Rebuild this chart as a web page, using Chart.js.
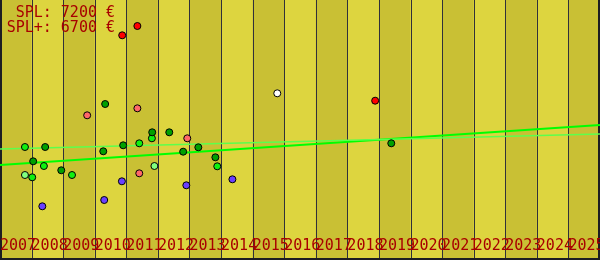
<!DOCTYPE html>
<html>
<head>
<meta charset="utf-8">
<script src="https://cdn.jsdelivr.net/npm/chart.js@4"></script>
<style>
    html, body { margin: 0; padding: 0; background: #ddd53f; }
    #wrap { width: 600px; height: 260px; position: relative; }
</style>
</head>
<body>
<div id="wrap"><canvas id="graphic-spl"></canvas></div>
<script>
// start: data
const years = [2007, 2008, 2009, 2010, 2011, 2012, 2013, 2014, 2015, 2016, 2017, 2018, 2019, 2020, 2021, 2022, 2023, 2024, 2025]
const splLabels = ['SPL: 7200 €', 'SPL+: 6700 €']

const redYears = [2010.87, 2011.35, 2018.88]
const redPrices = [22470, 23400, 15930]

const salmonYears = [2009.76, 2011.35, 2012.93, 2011.41]
const salmonPrices = [14470, 15170, 12170, 8670]

const darkGreenYears = [2008.43, 2008.05, 2008.94, 2010.33, 2010.27, 2010.90, 2011.82, 2012.36, 2013.28, 2012.80, 2013.82, 2019.39]
const darkGreenPrices = [11300, 9870, 8970, 15600, 10870, 11470, 12770, 12770, 11270, 10830, 10270, 11670]

const limeYears = [2007.79, 2008.39, 2009.28, 2008.02, 2011.81, 2011.41, 2013.88]
const limePrices = [11300, 9400, 8500, 8270, 12170, 11670, 9370]

const paleGreenYears = [2007.79, 2011.89]
const paleGreenPrices = [8500, 9400]

const blueYears = [2008.34, 2010.86, 2010.30, 2012.90, 2014.36]
const bluePrices = [5370, 7870, 6000, 7470, 8070]

const whiteYears = [2015.78]
const whitePrices = [16670]

const trendYears = [2007, 2026]
const trendSpl = [9500, 13500]
const trendSplPlus = [11100, 12600]
// end: data

function toPoints(xs, ys) {
    const data = []
    for (let i = 0; i < xs.length; i++) {
        data.push({ x: xs[i], y: ys[i] })
    }
    return data
}

function dots(xs, ys, color) {
    return {
        data: toPoints(xs, ys),
        pointRadius: 3.5,
        pointHoverRadius: 3.5,
        pointBackgroundColor: color,
        pointBorderColor: '#000',
        pointBorderWidth: 1,
        order: 0
    }
}

function trend(ys, color, width) {
    return {
        data: toPoints(trendYears, ys),
        showLine: true,
        borderColor: color,
        borderWidth: width,
        pointRadius: 0,
        order: 1
    }
}

// bands, grid and labels drawn straight on the canvas
const backdrop = {
    id: 'backdrop',
    beforeDatasetsDraw(chart) {
        const ctx = chart.ctx
        const x = chart.scales.x
        const h = chart.height
        const w = chart.width
        ctx.save()
        years.forEach(function (yr, i) {
            const a = x.getPixelForValue(yr)
            const b = x.getPixelForValue(yr + 1)
            ctx.fillStyle = i % 2 === 0 ? '#c9c034' : '#ddd53f'
            ctx.fillRect(a, 0, b - a, h)
        })
        ctx.strokeStyle = '#30303a'
        ctx.lineWidth = 1
        years.forEach(function (yr, i) {
            if (i === 0) return
            const px = Math.round(x.getPixelForValue(yr)) + 0.5
            ctx.beginPath()
            ctx.moveTo(px, 0)
            ctx.lineTo(px, h)
            ctx.stroke()
        })
        // frame: left, bottom, right
        ctx.strokeStyle = '#1c1c22'
        ctx.lineWidth = 2
        ctx.beginPath()
        ctx.moveTo(1, 0)
        ctx.lineTo(1, h - 1)
        ctx.lineTo(w - 1, h - 1)
        ctx.lineTo(w - 1, 0)
        ctx.stroke()
        ctx.restore()
    },
    afterDraw(chart) {
        const ctx = chart.ctx
        const x = chart.scales.x
        ctx.save()
        ctx.font = '15px "DejaVu Sans Mono", monospace'
        ctx.fillStyle = '#a80000'
        ctx.textBaseline = 'alphabetic'
        ctx.textAlign = 'left'
        years.forEach(function (yr) {
            ctx.fillText(String(yr), x.getPixelForValue(yr), 250)
        })
        ctx.textAlign = 'right'
        ctx.fillText(splLabels[0], 115, 17)
        ctx.fillText(splLabels[1], 115, 32)
        ctx.restore()
    }
}

new Chart(document.getElementById('graphic-spl'), {
    type: 'scatter',
    data: {
        datasets: [
            trend(trendSplPlus, '#5cff4c', 1.5),
            trend(trendSpl, '#00ff00', 2),
            dots(redYears, redPrices, '#ff0000'),
            dots(salmonYears, salmonPrices, '#ff6868'),
            dots(darkGreenYears, darkGreenPrices, '#00a000'),
            dots(limeYears, limePrices, '#10f010'),
            dots(paleGreenYears, paleGreenPrices, '#80ff80'),
            dots(blueYears, bluePrices, '#6a40ff'),
            dots(whiteYears, whitePrices, '#ffffff')
        ]
    },
    options: {
        responsive: true,
        maintainAspectRatio: false,
        animation: false,
        layout: { padding: 0, autoPadding: false },
        plugins: {
            legend: { display: false },
            tooltip: { enabled: false }
        },
        scales: {
            x: { type: 'linear', min: 2007, max: 2026, display: false },
            y: { min: 0, max: 26000, display: false }
        }
    },
    plugins: [backdrop]
});
</script>
</body>
</html>
